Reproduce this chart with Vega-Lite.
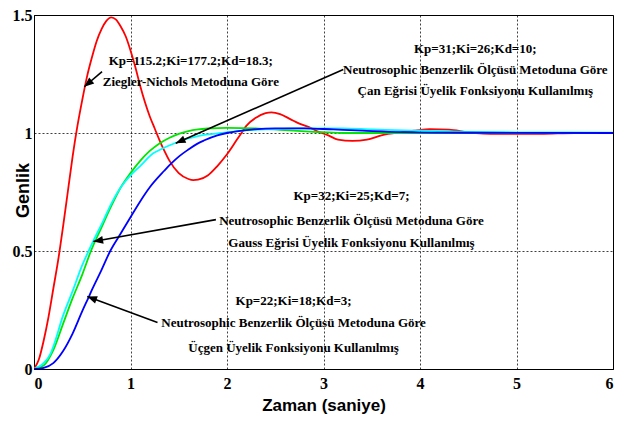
{
  "$schema": "https://vega.github.io/schema/vega-lite/v6.json",
  "autosize": "none",
  "width": 579,
  "height": 354,
  "padding": {"left": 34, "top": 15, "right": 20, "bottom": 52},
  "background": "white",
  "config": {
    "view": {"stroke": "#000", "strokeWidth": 1},
    "axis": {
      "domainColor": "#000",
      "grid": true,
      "gridColor": "#000",
      "gridDash": [2, 2],
      "gridOpacity": 0.75,
      "gridWidth": 1,
      "ticks": false,
      "labelFont": "Liberation Serif, Times New Roman, serif",
      "labelFontWeight": "bold",
      "labelFontSize": 16,
      "labelColor": "#000",
      "titleColor": "#000"
    }
  },
  "datasets": {
    "curves": [
      {"t": 0, "v": 0, "s": "ZN"}, {"t": 0.05, "v": 0.04, "s": "ZN"}, {"t": 0.1, "v": 0.12, "s": "ZN"}, {"t": 0.15, "v": 0.22, "s": "ZN"}, {"t": 0.2, "v": 0.34, "s": "ZN"}, {"t": 0.25, "v": 0.46, "s": "ZN"}, {"t": 0.3, "v": 0.6, "s": "ZN"}, {"t": 0.35, "v": 0.75, "s": "ZN"}, {"t": 0.4, "v": 0.9, "s": "ZN"}, {"t": 0.45, "v": 1.03, "s": "ZN"}, {"t": 0.5, "v": 1.14, "s": "ZN"}, {"t": 0.55, "v": 1.24, "s": "ZN"}, {"t": 0.6, "v": 1.32, "s": "ZN"}, {"t": 0.65, "v": 1.39, "s": "ZN"}, {"t": 0.7, "v": 1.44, "s": "ZN"}, {"t": 0.75, "v": 1.475, "s": "ZN"}, {"t": 0.8, "v": 1.49, "s": "ZN"}, {"t": 0.85, "v": 1.48, "s": "ZN"}, {"t": 0.9, "v": 1.45, "s": "ZN"}, {"t": 0.95, "v": 1.41, "s": "ZN"}, {"t": 1.0, "v": 1.35, "s": "ZN"}, {"t": 1.05, "v": 1.28, "s": "ZN"}, {"t": 1.1, "v": 1.2, "s": "ZN"}, {"t": 1.15, "v": 1.13, "s": "ZN"}, {"t": 1.2, "v": 1.07, "s": "ZN"}, {"t": 1.25, "v": 1.02, "s": "ZN"}, {"t": 1.3, "v": 0.97, "s": "ZN"}, {"t": 1.35, "v": 0.925, "s": "ZN"}, {"t": 1.4, "v": 0.885, "s": "ZN"}, {"t": 1.5, "v": 0.83, "s": "ZN"}, {"t": 1.6, "v": 0.805, "s": "ZN"}, {"t": 1.65, "v": 0.8, "s": "ZN"}, {"t": 1.7, "v": 0.802, "s": "ZN"}, {"t": 1.8, "v": 0.82, "s": "ZN"}, {"t": 1.9, "v": 0.86, "s": "ZN"}, {"t": 2.0, "v": 0.91, "s": "ZN"}, {"t": 2.1, "v": 0.97, "s": "ZN"}, {"t": 2.15, "v": 1.0, "s": "ZN"}, {"t": 2.2, "v": 1.03, "s": "ZN"}, {"t": 2.3, "v": 1.065, "s": "ZN"}, {"t": 2.4, "v": 1.084, "s": "ZN"}, {"t": 2.46, "v": 1.087, "s": "ZN"}, {"t": 2.55, "v": 1.08, "s": "ZN"}, {"t": 2.65, "v": 1.06, "s": "ZN"}, {"t": 2.75, "v": 1.04, "s": "ZN"}, {"t": 2.85, "v": 1.025, "s": "ZN"}, {"t": 2.95, "v": 1.005, "s": "ZN"}, {"t": 3.05, "v": 0.99, "s": "ZN"}, {"t": 3.15, "v": 0.972, "s": "ZN"}, {"t": 3.3, "v": 0.967, "s": "ZN"}, {"t": 3.45, "v": 0.972, "s": "ZN"}, {"t": 3.6, "v": 0.99, "s": "ZN"}, {"t": 3.8, "v": 1.003, "s": "ZN"}, {"t": 3.95, "v": 1.01, "s": "ZN"}, {"t": 4.1, "v": 1.016, "s": "ZN"}, {"t": 4.3, "v": 1.014, "s": "ZN"}, {"t": 4.5, "v": 1.003, "s": "ZN"}, {"t": 4.8, "v": 0.996, "s": "ZN"}, {"t": 5.25, "v": 0.996, "s": "ZN"}, {"t": 5.6, "v": 1.0, "s": "ZN"}, {"t": 6, "v": 1.0, "s": "ZN"},

      {"t": 0, "v": 0, "s": "CAN"}, {"t": 0.1, "v": 0.015, "s": "CAN"}, {"t": 0.2, "v": 0.08, "s": "CAN"}, {"t": 0.3, "v": 0.19, "s": "CAN"}, {"t": 0.4, "v": 0.3, "s": "CAN"}, {"t": 0.5, "v": 0.4, "s": "CAN"}, {"t": 0.59, "v": 0.5, "s": "CAN"}, {"t": 0.7, "v": 0.6, "s": "CAN"}, {"t": 0.8, "v": 0.69, "s": "CAN"}, {"t": 0.9, "v": 0.77, "s": "CAN"}, {"t": 1.0, "v": 0.83, "s": "CAN"}, {"t": 1.1, "v": 0.882, "s": "CAN"}, {"t": 1.2, "v": 0.924, "s": "CAN"}, {"t": 1.3, "v": 0.956, "s": "CAN"}, {"t": 1.4, "v": 0.979, "s": "CAN"}, {"t": 1.5, "v": 0.996, "s": "CAN"}, {"t": 1.6, "v": 1.008, "s": "CAN"}, {"t": 1.7, "v": 1.015, "s": "CAN"}, {"t": 1.8, "v": 1.019, "s": "CAN"}, {"t": 2.0, "v": 1.022, "s": "CAN"}, {"t": 2.3, "v": 1.02, "s": "CAN"}, {"t": 2.6, "v": 1.012, "s": "CAN"}, {"t": 2.9, "v": 1.005, "s": "CAN"}, {"t": 3.2, "v": 1.0, "s": "CAN"}, {"t": 6, "v": 1.0, "s": "CAN"},

      {"t": 0, "v": 0, "s": "GAUSS"}, {"t": 0.1, "v": 0.025, "s": "GAUSS"}, {"t": 0.17, "v": 0.064, "s": "GAUSS"}, {"t": 0.2, "v": 0.095, "s": "GAUSS"}, {"t": 0.3, "v": 0.225, "s": "GAUSS"}, {"t": 0.4, "v": 0.33, "s": "GAUSS"}, {"t": 0.5, "v": 0.44, "s": "GAUSS"}, {"t": 0.566, "v": 0.5, "s": "GAUSS"}, {"t": 0.6, "v": 0.53, "s": "GAUSS"}, {"t": 0.72, "v": 0.63, "s": "GAUSS"}, {"t": 0.8, "v": 0.7, "s": "GAUSS"}, {"t": 0.86, "v": 0.745, "s": "GAUSS"}, {"t": 0.9, "v": 0.77, "s": "GAUSS"}, {"t": 1.0, "v": 0.82, "s": "GAUSS"}, {"t": 1.1, "v": 0.86, "s": "GAUSS"}, {"t": 1.24, "v": 0.915, "s": "GAUSS"}, {"t": 1.3, "v": 0.928, "s": "GAUSS"}, {"t": 1.4, "v": 0.947, "s": "GAUSS"}, {"t": 1.5, "v": 0.963, "s": "GAUSS"}, {"t": 1.6, "v": 0.977, "s": "GAUSS"}, {"t": 1.7, "v": 0.987, "s": "GAUSS"}, {"t": 1.8, "v": 0.994, "s": "GAUSS"}, {"t": 1.94, "v": 1.0, "s": "GAUSS"}, {"t": 2.1, "v": 1.008, "s": "GAUSS"}, {"t": 2.4, "v": 1.015, "s": "GAUSS"}, {"t": 2.8, "v": 1.02, "s": "GAUSS"}, {"t": 3.2, "v": 1.02, "s": "GAUSS"}, {"t": 3.5, "v": 1.015, "s": "GAUSS"}, {"t": 4.0, "v": 1.01, "s": "GAUSS"}, {"t": 4.5, "v": 1.005, "s": "GAUSS"}, {"t": 5.0, "v": 1.003, "s": "GAUSS"}, {"t": 6, "v": 1.002, "s": "GAUSS"},

      {"t": 0, "v": 0, "s": "UCGEN"}, {"t": 0.1, "v": 0.005, "s": "UCGEN"}, {"t": 0.2, "v": 0.025, "s": "UCGEN"}, {"t": 0.3, "v": 0.075, "s": "UCGEN"}, {"t": 0.4, "v": 0.15, "s": "UCGEN"}, {"t": 0.5, "v": 0.245, "s": "UCGEN"}, {"t": 0.566, "v": 0.304, "s": "UCGEN"}, {"t": 0.6, "v": 0.335, "s": "UCGEN"}, {"t": 0.7, "v": 0.42, "s": "UCGEN"}, {"t": 0.79, "v": 0.5, "s": "UCGEN"}, {"t": 0.9, "v": 0.575, "s": "UCGEN"}, {"t": 1.0, "v": 0.643, "s": "UCGEN"}, {"t": 1.1, "v": 0.71, "s": "UCGEN"}, {"t": 1.2, "v": 0.77, "s": "UCGEN"}, {"t": 1.35, "v": 0.84, "s": "UCGEN"}, {"t": 1.42, "v": 0.87, "s": "UCGEN"}, {"t": 1.5, "v": 0.9, "s": "UCGEN"}, {"t": 1.6, "v": 0.93, "s": "UCGEN"}, {"t": 1.69, "v": 0.954, "s": "UCGEN"}, {"t": 1.76, "v": 0.968, "s": "UCGEN"}, {"t": 1.9, "v": 0.99, "s": "UCGEN"}, {"t": 2.0, "v": 1.0, "s": "UCGEN"}, {"t": 2.2, "v": 1.012, "s": "UCGEN"}, {"t": 2.5, "v": 1.02, "s": "UCGEN"}, {"t": 2.8, "v": 1.02, "s": "UCGEN"}, {"t": 3.1, "v": 1.015, "s": "UCGEN"}, {"t": 3.4, "v": 1.01, "s": "UCGEN"}, {"t": 3.8, "v": 1.004, "s": "UCGEN"}, {"t": 4.5, "v": 1.001, "s": "UCGEN"}, {"t": 6, "v": 1.0, "s": "UCGEN"}
    ],
    "arrows": [
      {"t1": 0.705, "v1": 1.26, "t2": 0.521, "v2": 1.196},
      {"t1": 3.205, "v1": 1.269, "t2": 1.469, "v2": 0.957},
      {"t1": 1.885, "v1": 0.633, "t2": 0.615, "v2": 0.54},
      {"t1": 1.28, "v1": 0.197, "t2": 0.552, "v2": 0.307}
    ],
    "notes": [
      {"t": 1.625, "v": 1.307, "label": "Kp=115.2;Ki=177.2;Kd=18.3;"},
      {"t": 1.625, "v": 1.214, "label": "Ziegler-Nichols Metoduna Göre"},
      {"t": 4.573, "v": 1.357, "label": "Kp=31;Ki=26;Kd=10;"},
      {"t": 4.573, "v": 1.269, "label": "Neutrosophic Benzerlik Ölçüsü Metoduna Göre"},
      {"t": 4.573, "v": 1.18, "label": "Çan Eğrisi Üyelik Fonksiyonu Kullanılmış"},
      {"t": 3.29, "v": 0.735, "label": "Kp=32;Ki=25;Kd=7;"},
      {"t": 3.29, "v": 0.629, "label": "Neutrosophic Benzerlik Ölçüsü Metoduna Göre"},
      {"t": 3.29, "v": 0.532, "label": "Gauss Eğrisi Üyelik Fonksiyonu Kullanılmış"},
      {"t": 2.69, "v": 0.29, "label": "Kp=22;Ki=18;Kd=3;"},
      {"t": 2.69, "v": 0.193, "label": "Neutrosophic Benzerlik Ölçüsü Metoduna Göre"},
      {"t": 2.69, "v": 0.091, "label": "Üçgen Üyelik Fonksiyonu Kullanılmış"}
    ]
  },
  "layer": [
    {
      "data": {"name": "curves"},
      "mark": {"type": "line", "strokeWidth": 1.8, "clip": true, "interpolate": "monotone"},
      "encoding": {
        "x": {
          "field": "t", "type": "quantitative",
          "scale": {"domain": [0, 6], "nice": false, "zero": false},
          "axis": {
            "values": [0, 1, 2, 3, 4, 5, 6],
            "labelExpr": "'' + datum.value",
            "labelPadding": 6,
            "title": "Zaman (saniye)",
            "titleFont": "Liberation Sans Narrow, Liberation Sans",
            "titleFontWeight": "bold",
            "titleFontSize": 17,
            "titleBaseline": "middle",
            "titleY": 36
          }
        },
        "y": {
          "field": "v", "type": "quantitative",
          "scale": {"domain": [0, 1.5], "nice": false},
          "axis": {
            "values": [0, 0.5, 1, 1.5],
            "labelExpr": "'' + datum.value",
            "labelPadding": 2,
            "title": "Genlik",
            "titleFont": "Liberation Sans",
            "titleFontWeight": "bold",
            "titleFontSize": 18,
            "titleX": -11,
            "titleY": 175,
            "titleAlign": "center",
            "titleBaseline": "middle",
            "titleAngle": -90
          }
        },
        "color": {
          "field": "s", "type": "nominal",
          "scale": {"domain": ["ZN", "CAN", "GAUSS", "UCGEN"], "range": ["#ff0000", "#00e600", "#00ffff", "#0000ff"]},
          "legend": null
        },
        "order": {"field": "t", "type": "quantitative"}
      }
    },
    {
      "data": {"name": "arrows"},
      "mark": {"type": "rule", "color": "#000", "strokeWidth": 1.6},
      "encoding": {
        "x": {"field": "t1", "type": "quantitative"},
        "y": {"field": "v1", "type": "quantitative"},
        "x2": {"field": "t2"},
        "y2": {"field": "v2"}
      }
    },
    {
      "data": {"name": "arrows"},
      "transform": [
        {"calculate": "atan2((datum.t2 - datum.t1) * 96.5, (datum.v2 - datum.v1) * 236) * 180 / PI", "as": "ang"}
      ],
      "mark": {"type": "point", "shape": "M0,0L0.4,1L-0.4,1Z", "filled": true, "color": "#000", "opacity": 1, "size": 380},
      "encoding": {
        "x": {"field": "t2", "type": "quantitative"},
        "y": {"field": "v2", "type": "quantitative"},
        "angle": {"field": "ang", "type": "quantitative", "scale": null}
      }
    },
    {
      "data": {"name": "notes"},
      "mark": {"type": "text", "font": "Liberation Serif, Times New Roman, serif", "fontWeight": "bold", "fontSize": 13, "color": "#000", "align": "center", "baseline": "middle"},
      "encoding": {
        "x": {"field": "t", "type": "quantitative"},
        "y": {"field": "v", "type": "quantitative"},
        "text": {"field": "label"}
      }
    }
  ]
}
